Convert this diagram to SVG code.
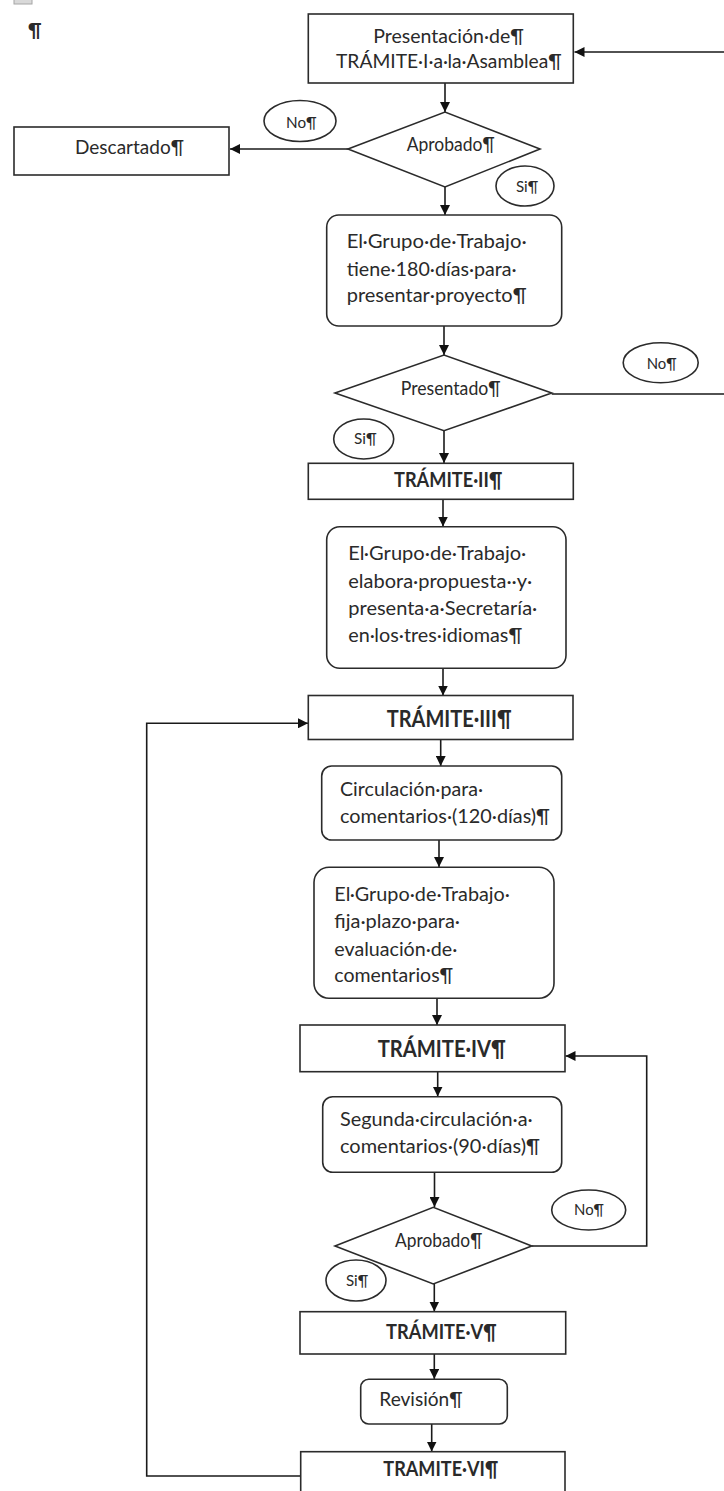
<svg xmlns="http://www.w3.org/2000/svg" width="724" height="1491" viewBox="0 0 724 1491">
<style>
.box{fill:#fff;stroke:#2b2b2b;stroke-width:1.6}
.t{font-family:Lato,"Liberation Sans",sans-serif;font-size:18.5px;fill:#2a2a2a}
.s{font-size:15px}
.b{font-weight:bold;font-size:20px}
.bb{font-weight:bold;font-size:23px}
.c{fill:none;stroke:#1a1a1a;stroke-width:1.6}
.a{marker-end:url(#ah)}
</style>
<defs>
<marker id="ah" markerUnits="userSpaceOnUse" markerWidth="11" markerHeight="10" refX="10" refY="5" orient="auto">
<path d="M0,0 L10,5 L0,10 z" fill="#111"/>
</marker>
</defs>
<rect x="14" y="-12" width="18" height="16" fill="#d9d9d9" stroke="#a6a6a6" stroke-width="1"/>
<text class="t" x="28" y="37" font-size="22" font-weight="bold">¶</text>
<g id="connectors">
<path class="c a" d="M551.7,394 H740 V52 H574.5"/>
<path class="c a" d="M445,83 V112"/>
<path class="c a" d="M348,149 H230"/>
<path class="c a" d="M445,187 V215"/>
<path class="c a" d="M444,326 V355"/>
<path class="c a" d="M444,431 V463"/>
<path class="c a" d="M443,499.5 V526.5"/>
<path class="c a" d="M443,668.5 V695.5"/>
<path class="c a" d="M300,1476 H146.7 V723.3 H308"/>
<path class="c a" d="M440.7,739.5 V766"/>
<path class="c a" d="M439,840 V867"/>
<path class="c a" d="M437,998.5 V1025"/>
<path class="c a" d="M437.7,1071.7 V1096.5"/>
<path class="c a" d="M434.5,1172.3 V1207"/>
<path class="c a" d="M531.7,1246 H646.7 V1056 H565.5"/>
<path class="c a" d="M434.3,1284 V1311.5"/>
<path class="c a" d="M434.3,1354 V1379"/>
<path class="c a" d="M431.7,1424 V1451.5"/>
</g>
<g id="n1">
<rect class="box" x="308.3" y="14" width="265" height="69"/>
<text class="t" x="373.3" y="43.3" textLength="150.7" lengthAdjust="spacingAndGlyphs">Presentación·de¶</text>
<text class="t" x="336" y="68.3" textLength="225.7" lengthAdjust="spacingAndGlyphs">TRÁMITE·I·a·la·Asamblea¶</text>
</g>
<g id="d1">
<polygon class="box" points="348,149 445,112 540,149 445,187"/>
<text class="t" x="406.7" y="151" textLength="88" lengthAdjust="spacingAndGlyphs">Aprobado¶</text>
</g>
<g id="l_no1">
<ellipse class="box" cx="300" cy="121" rx="36" ry="20.5"/>
<text class="t s" x="286" y="127.5" textLength="30.7" lengthAdjust="spacingAndGlyphs">No¶</text>
</g>
<g id="n_desc">
<rect class="box" x="14" y="127" width="215" height="48"/>
<text class="t" x="75" y="154" textLength="109" lengthAdjust="spacingAndGlyphs">Descartado¶</text>
</g>
<g id="l_si1">
<ellipse class="box" cx="525" cy="186" rx="29" ry="20"/>
<text class="t s" x="516" y="191.5" textLength="22.3" lengthAdjust="spacingAndGlyphs">Si¶</text>
</g>
<g id="n2">
<rect class="box" x="326.7" y="215" width="235" height="111" rx="12"/>
<text class="t" x="346.7" y="248.3" textLength="180" lengthAdjust="spacingAndGlyphs">El·Grupo·de·Trabajo·</text>
<text class="t" x="346.7" y="276" textLength="170" lengthAdjust="spacingAndGlyphs">tiene·180·días·para·</text>
<text class="t" x="346.7" y="301.7" textLength="180" lengthAdjust="spacingAndGlyphs">presentar·proyecto¶</text>
</g>
<g id="d2">
<polygon class="box" points="335,393 444,355 551.7,393 444,430.7"/>
<text class="t" x="400.7" y="394.5" textLength="100" lengthAdjust="spacingAndGlyphs">Presentado¶</text>
</g>
<g id="l_no2">
<ellipse class="box" cx="660.7" cy="362.7" rx="37.5" ry="20"/>
<text class="t s" x="646.7" y="369" textLength="30" lengthAdjust="spacingAndGlyphs">No¶</text>
</g>
<g id="l_si2">
<ellipse class="box" cx="363.7" cy="439" rx="30" ry="20"/>
<text class="t s" x="354" y="444" textLength="22.7" lengthAdjust="spacingAndGlyphs">Si¶</text>
</g>
<g id="n_t2">
<rect class="box" x="308.3" y="463.3" width="265" height="36"/>
<text class="t b" x="394" y="487" textLength="108.3" lengthAdjust="spacingAndGlyphs">TRÁMITE·II¶</text>
</g>
<g id="n3">
<rect class="box" x="326.7" y="526.7" width="239.3" height="141.6" rx="13"/>
<text class="t" x="348.3" y="560" textLength="178" lengthAdjust="spacingAndGlyphs">El·Grupo·de·Trabajo·</text>
<text class="t" x="348.3" y="587.7" textLength="184" lengthAdjust="spacingAndGlyphs">elabora·propuesta··y·</text>
<text class="t" x="348.3" y="615" textLength="189" lengthAdjust="spacingAndGlyphs">presenta·a·Secretaría·</text>
<text class="t" x="348.3" y="642.3" textLength="174" lengthAdjust="spacingAndGlyphs">en·los·tres·idiomas¶</text>
</g>
<g id="n_t3">
<rect class="box" x="308.3" y="695.5" width="264.7" height="44"/>
<text class="t bb" x="386.7" y="727" textLength="125" lengthAdjust="spacingAndGlyphs">TRÁMITE·III¶</text>
</g>
<g id="n4">
<rect class="box" x="321.7" y="766" width="240" height="74" rx="10"/>
<text class="t" x="340" y="796" textLength="143" lengthAdjust="spacingAndGlyphs">Circulación·para·</text>
<text class="t" x="340" y="822.7" textLength="210" lengthAdjust="spacingAndGlyphs">comentarios·(120·días)¶</text>
</g>
<g id="n5">
<rect class="box" x="314" y="867.3" width="240" height="131" rx="15"/>
<text class="t" x="334.3" y="900.7" textLength="175.7" lengthAdjust="spacingAndGlyphs">El·Grupo·de·Trabajo·</text>
<text class="t" x="334.3" y="928.3" textLength="125.7" lengthAdjust="spacingAndGlyphs">fija·plazo·para·</text>
<text class="t" x="334.3" y="956" textLength="123" lengthAdjust="spacingAndGlyphs">evaluación·de·</text>
<text class="t" x="334.3" y="981.7" textLength="119" lengthAdjust="spacingAndGlyphs">comentarios¶</text>
</g>
<g id="n_t4">
<rect class="box" x="300" y="1025" width="265" height="46.7"/>
<text class="t bb" x="377.7" y="1057" textLength="128.3" lengthAdjust="spacingAndGlyphs">TRÁMITE·IV¶</text>
</g>
<g id="n6">
<rect class="box" x="322.7" y="1096.7" width="239" height="75.6" rx="10"/>
<text class="t" x="340" y="1126" textLength="192.7" lengthAdjust="spacingAndGlyphs">Segunda·circulación·a·</text>
<text class="t" x="340" y="1152.7" textLength="200" lengthAdjust="spacingAndGlyphs">comentarios·(90·días)¶</text>
</g>
<g id="d3">
<polygon class="box" points="335,1246 433.3,1207.3 531.7,1246 433.3,1284"/>
<text class="t" x="395" y="1247" textLength="87.3" lengthAdjust="spacingAndGlyphs">Aprobado¶</text>
</g>
<g id="l_no3">
<ellipse class="box" cx="588.7" cy="1210" rx="37" ry="20"/>
<text class="t s" x="574" y="1215" textLength="30" lengthAdjust="spacingAndGlyphs">No¶</text>
</g>
<g id="l_si3">
<ellipse class="box" cx="356" cy="1280.5" rx="30" ry="20.5"/>
<text class="t s" x="346" y="1286" textLength="22.3" lengthAdjust="spacingAndGlyphs">Si¶</text>
</g>
<g id="n_t5">
<rect class="box" x="300" y="1311.7" width="265.7" height="42.3"/>
<text class="t b" x="386" y="1338.5" textLength="110.7" lengthAdjust="spacingAndGlyphs">TRÁMITE·V¶</text>
</g>
<g id="n7">
<rect class="box" x="360.7" y="1379.3" width="146.6" height="44.7" rx="8"/>
<text class="t" x="379.3" y="1406" textLength="83.3" lengthAdjust="spacingAndGlyphs">Revisión¶</text>
</g>
<g id="n_t6">
<rect class="box" x="300.7" y="1451.7" width="264.3" height="60"/>
<text class="t b" x="383.3" y="1476" textLength="115" lengthAdjust="spacingAndGlyphs">TRAMITE·VI¶</text>
</g>
</svg>
